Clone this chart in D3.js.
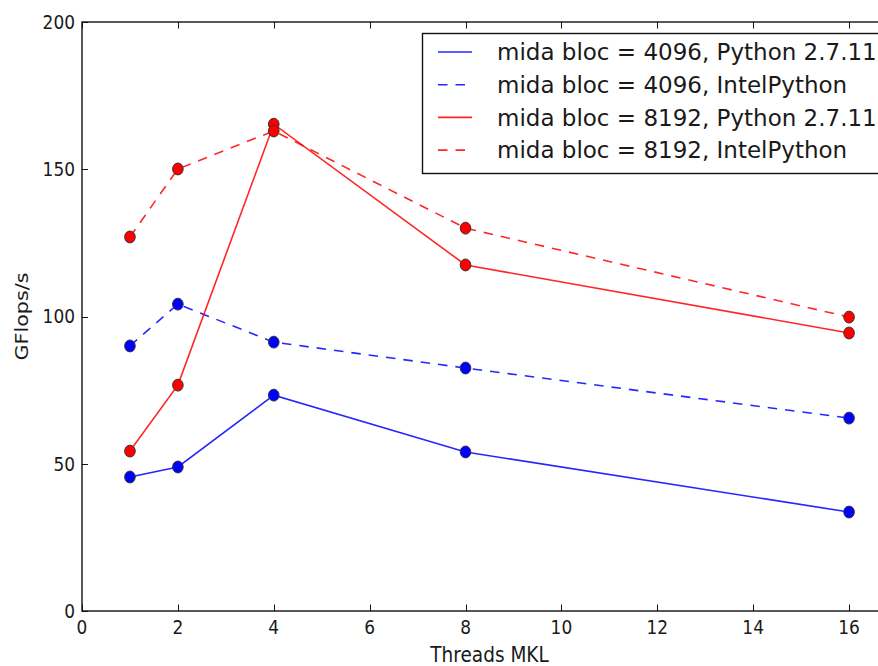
<!DOCTYPE html>
<html>
<head>
<meta charset="utf-8">
<script src="https://cdn.jsdelivr.net/npm/d3@7/dist/d3.min.js"></script>
<style>
  html, body { margin: 0; padding: 0; background: #fff; overflow: hidden; }
  svg { display: block; }
  text { font-family: "DejaVu Sans", sans-serif; fill: #1a1a1a; }
</style>
</head>
<body>
<svg id="chart" width="878" height="666"></svg>
<script>
// Threads used by MKL
const threads = [1, 2, 4, 8, 16];

// Measured throughput (GFlops/s) per configuration
const bloc4096Python = [45.5, 48.9, 73.3, 54.0, 33.6];
const bloc4096Intel  = [90.0, 104.2, 91.3, 82.5, 65.5];
const bloc8192Python = [54.3, 76.7, 165.3, 117.5, 94.4];
const bloc8192Intel  = [127.0, 150.1, 163.0, 130.0, 99.8];

const xTicks = [0, 2, 4, 6, 8, 10, 12, 14, 16];
const yTicks = [0, 50, 100, 150, 200];

const seriesNames = [
  "mida bloc = 4096, Python 2.7.11",
  "mida bloc = 4096, IntelPython",
  "mida bloc = 8192, Python 2.7.11",
  "mida bloc = 8192, IntelPython"
];

const series = [
  { name: seriesNames[0], values: bloc4096Python, color: "#0000ff", dashed: false },
  { name: seriesNames[1], values: bloc4096Intel,  color: "#0000ff", dashed: true },
  { name: seriesNames[2], values: bloc8192Python, color: "#ff0000", dashed: false },
  { name: seriesNames[3], values: bloc8192Intel,  color: "#ff0000", dashed: true }
];

const svg = d3.select("#chart");
const plotLeft = 82, plotTop = 22, plotBottom = 611, plotRight = 897;
const stretch = 1.12;
const DASH = "9.5,8";

const x = d3.scaleLinear().domain([0, 17]).range([plotLeft, plotRight]);
const y = d3.scaleLinear().domain([0, 200]).range([plotBottom, plotTop]);

// Axis frame
svg.append("rect")
  .attr("x", plotLeft).attr("y", plotTop)
  .attr("width", plotRight - plotLeft).attr("height", plotBottom - plotTop)
  .attr("fill", "none").attr("stroke", "#111").attr("stroke-width", 1.4);

// Inward ticks on all four sides
const tickG = svg.append("g").attr("stroke", "#111").attr("stroke-width", 1);
xTicks.forEach(t => {
  const px = Math.round(x(t)) + 0.5;
  tickG.append("line").attr("x1", px).attr("x2", px).attr("y1", plotBottom).attr("y2", plotBottom - 6.5);
  tickG.append("line").attr("x1", px).attr("x2", px).attr("y1", plotTop).attr("y2", plotTop + 6.5);
});
yTicks.forEach(t => {
  const py = Math.round(y(t)) + 0.5;
  tickG.append("line").attr("x1", plotLeft).attr("x2", plotLeft + 6).attr("y1", py).attr("y2", py);
  tickG.append("line").attr("x1", plotRight).attr("x2", plotRight - 6).attr("y1", py).attr("y2", py);
});

// Tick labels (slightly tall glyphs)
const xLab = svg.append("g");
xTicks.forEach(t => {
  xLab.append("text")
    .attr("transform", `translate(${x(t)},634) scale(1,${stretch})`)
    .attr("text-anchor", "middle")
    .style("font-size", "17px")
    .text(t);
});
const yLab = svg.append("g");
yTicks.forEach(t => {
  yLab.append("text")
    .attr("transform", `translate(75,${y(t)}) scale(1,${stretch})`)
    .attr("text-anchor", "end")
    .attr("dy", "0.36em")
    .style("font-size", "17px")
    .text(t);
});

// Axis titles
svg.append("text")
  .attr("transform", `translate(${(plotLeft + plotRight) / 2},662) scale(1,${stretch})`)
  .attr("text-anchor", "middle")
  .style("font-size", "18.5px")
  .text("Threads MKL");
svg.append("text")
  .attr("transform", `translate(28,${(plotTop + plotBottom) / 2}) scale(1,${stretch}) rotate(-90)`)
  .attr("text-anchor", "middle")
  .style("font-size", "18.5px")
  .text("GFlops/s");

// Lines and markers
const line = d3.line().x(d => x(d[0])).y(d => y(d[1]));
const plot = svg.append("g");
series.forEach(s => {
  const pts = threads.map((t, i) => [t, s.values[i]]);
  plot.append("path")
    .attr("d", line(pts))
    .attr("fill", "none")
    .attr("stroke", s.color)
    .attr("stroke-opacity", 0.85)
    .attr("stroke-width", 1.6)
    .attr("stroke-dasharray", s.dashed ? DASH : null);
});
series.forEach(s => {
  plot.selectAll(null)
    .data(threads.map((t, i) => [t, s.values[i]]))
    .enter().append("ellipse")
    .attr("cx", d => x(d[0]))
    .attr("cy", d => y(d[1]))
    .attr("rx", 5.3)
    .attr("ry", 5.3 * stretch)
    .attr("fill", s.color)
    .attr("stroke", "#333")
    .attr("stroke-width", 1);
});

// Legend
const lg = svg.append("g");
lg.append("rect")
  .attr("x", 422.5).attr("y", 33.5)
  .attr("width", 470).attr("height", 140)
  .attr("fill", "#fff").attr("stroke", "#111").attr("stroke-width", 1.4);
series.forEach((s, i) => {
  const cy = 52 + i * 32.7;
  lg.append("line")
    .attr("x1", 438).attr("x2", 472)
    .attr("y1", cy).attr("y2", cy)
    .attr("stroke", s.color)
    .attr("stroke-opacity", 0.85)
    .attr("stroke-width", 1.6)
    .attr("stroke-dasharray", s.dashed ? DASH : null);
  lg.append("text")
    .attr("x", 497).attr("y", cy)
    .attr("dy", "0.36em")
    .style("font-size", "23px")
    .text(s.name);
});
</script>
</body>
</html>
